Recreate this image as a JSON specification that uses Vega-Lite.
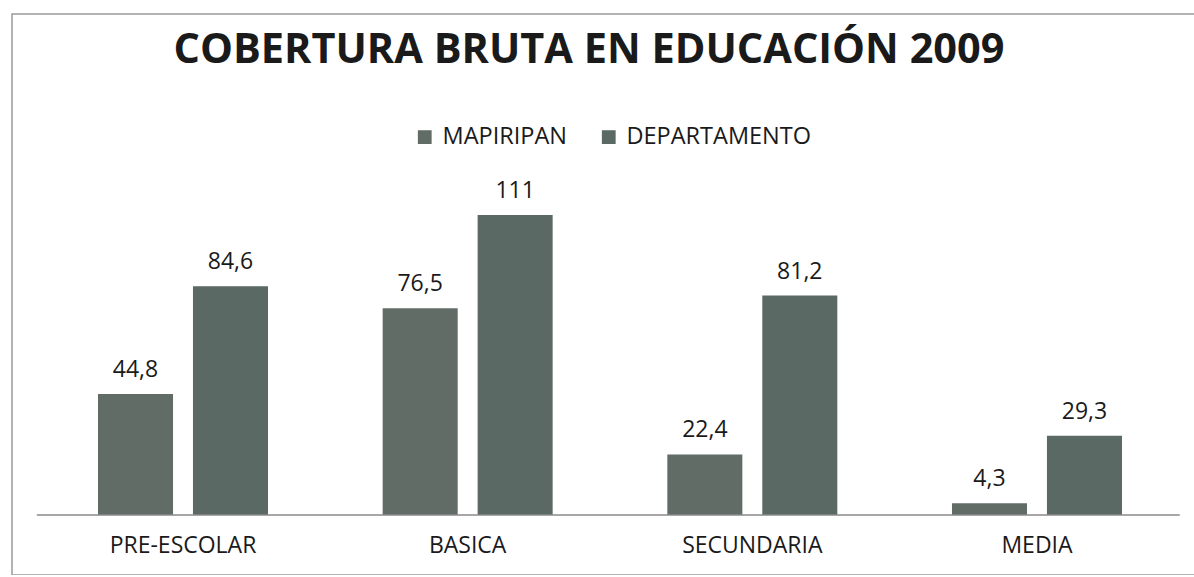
{
  "$schema": "https://vega.github.io/schema/vega-lite/v6.json",
  "autosize": "none",
  "width": 1190,
  "height": 561,
  "padding": {"left": 12, "top": 14, "right": 0, "bottom": 0},
  "background": "white",
  "config": {
    "view": {"stroke": "#9a9a9a", "strokeWidth": 1.5},
    "font": "Open Sans"
  },
  "title": {
    "text": "COBERTURA BRUTA EN EDUCACIÓN 2009",
    "font": "Open Sans",
    "fontSize": 41.5,
    "fontWeight": "bold",
    "color": "#1a1a1a",
    "anchor": "middle",
    "dx": -18,
    "offset": -57
  },
  "data": {
    "values": [
      {"nivel": "PRE-ESCOLAR", "serie": "MAPIRIPAN", "valor": 44.8, "etiqueta": "44,8"},
      {"nivel": "PRE-ESCOLAR", "serie": "DEPARTAMENTO", "valor": 84.6, "etiqueta": "84,6"},
      {"nivel": "BASICA", "serie": "MAPIRIPAN", "valor": 76.5, "etiqueta": "76,5"},
      {"nivel": "BASICA", "serie": "DEPARTAMENTO", "valor": 111, "etiqueta": "111"},
      {"nivel": "SECUNDARIA", "serie": "MAPIRIPAN", "valor": 22.4, "etiqueta": "22,4"},
      {"nivel": "SECUNDARIA", "serie": "DEPARTAMENTO", "valor": 81.2, "etiqueta": "81,2"},
      {"nivel": "MEDIA", "serie": "MAPIRIPAN", "valor": 4.3, "etiqueta": "4,3"},
      {"nivel": "MEDIA", "serie": "DEPARTAMENTO", "valor": 29.3, "etiqueta": "29,3"}
    ]
  },
  "layer": [
    {
      "encoding": {
        "x": {
          "field": "nivel",
          "type": "nominal",
          "sort": ["PRE-ESCOLAR", "BASICA", "SECUNDARIA", "MEDIA"],
          "scale": {"paddingInner": 0.4028, "paddingOuter": 0.2916, "align": 0.518},
          "axis": {
            "title": null,
            "orient": "bottom",
            "offset": -60,
            "labelAngle": 0,
            "labelFontSize": 23,
            "labelFont": "Open Sans",
            "labelColor": "#1a1a1a",
            "labelPadding": 19,
            "ticks": false,
            "domain": false,
            "grid": false
          }
        },
        "xOffset": {
          "field": "serie",
          "type": "nominal",
          "sort": ["MAPIRIPAN", "DEPARTAMENTO"],
          "scale": {"paddingInner": 0.21, "paddingOuter": 0}
        },
        "y": {
          "field": "valor",
          "type": "quantitative",
          "scale": {"domain": [-22.2, 185.35], "nice": false, "zero": false},
          "axis": null
        }
      },
      "layer": [
        {
          "mark": {"type": "bar"},
          "encoding": {
            "y2": {"datum": 0},
            "color": {
              "field": "serie",
              "type": "nominal",
              "sort": ["MAPIRIPAN", "DEPARTAMENTO"],
              "scale": {"domain": ["MAPIRIPAN", "DEPARTAMENTO"], "range": ["#616c67", "#5a6963"]},
              "legend": {
                "title": null,
                "orient": "none",
                "direction": "horizontal",
                "legendX": 401,
                "legendY": 111,
                "symbolType": "square",
                "symbolSize": 190,
                "labelFontSize": 23.5,
                "labelFont": "Open Sans",
                "labelColor": "#1a1a1a",
                "labelLimit": 400,
                "columnPadding": 30,
                "labelOffset": 6
              }
            }
          }
        },
        {
          "mark": {"type": "text", "baseline": "bottom", "dy": -12, "fontSize": 23, "font": "Open Sans", "color": "#1a1a1a"},
          "encoding": {
            "text": {"field": "etiqueta"}
          }
        }
      ]
    },
    {
      "data": {"values": [{"linea": "base"}]},
      "mark": {"type": "rule", "color": "#8a8a8a", "strokeWidth": 1.5},
      "encoding": {
        "x": {"datum": "PRE-ESCOLAR", "type": "nominal", "bandPosition": -0.36},
        "x2": {"datum": "MEDIA", "bandPosition": 1.34},
        "y": {"datum": 0, "type": "quantitative"}
      }
    }
  ]
}
